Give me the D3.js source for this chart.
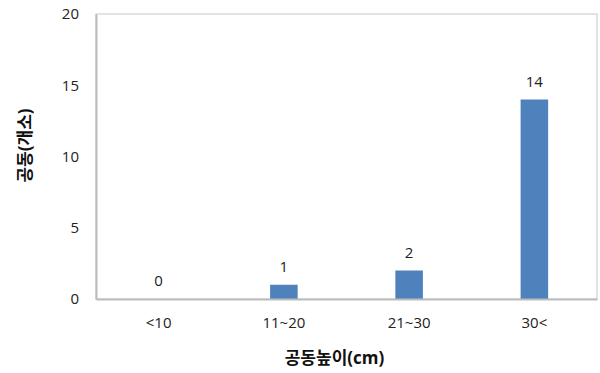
<!DOCTYPE html>
<html>
<head>
<meta charset="utf-8">
<script src="https://cdn.jsdelivr.net/npm/d3@7"></script>
<style>
  html, body { margin: 0; padding: 0; background: #fff; }
  svg { display: block; font-family: "Open Sans", "Noto Sans CJK KR", sans-serif; }
</style>
</head>
<body>
<svg id="chart" width="600" height="373"></svg>
<script>
// Cavity counts by cavity height class
const categories = ["<10", "11~20", "21~30", "30<"];
const counts = [0, 1, 2, 14];
const yTicks = [0, 5, 10, 15, 20];
const xTitle = "공동높이(cm)";
const yTitle = "공동(개소)";

const svg = d3.select("#chart");
const margin = { left: 96, right: 3, top: 14, bottom: 74 };
const W = 600, H = 373;
const innerW = W - margin.left - margin.right;
const innerH = H - margin.top - margin.bottom;

const g = svg.append("g").attr("transform", `translate(${margin.left},${margin.top})`);

const x = d3.scaleBand().domain(categories).range([0, innerW]).paddingInner(0.78).paddingOuter(0.39);
const y = d3.scaleLinear().domain([0, 20]).range([innerH, 0]);

// plot area frame
g.append("rect")
  .attr("x", 0).attr("y", 0)
  .attr("width", innerW).attr("height", innerH)
  .attr("fill", "none").attr("stroke", "#c8c8c8").attr("stroke-width", 1);

// bars
g.selectAll("rect.bar").data(categories).enter().append("rect")
  .attr("class", "bar")
  .attr("x", d => x(d))
  .attr("width", x.bandwidth())
  .attr("y", (d, i) => y(counts[i]))
  .attr("height", (d, i) => innerH - y(counts[i]))
  .attr("fill", "#4f81bd");

// value labels
g.selectAll("text.val").data(categories).enter().append("text")
  .attr("class", "val")
  .attr("x", d => x(d) + x.bandwidth() / 2)
  .attr("y", (d, i) => y(counts[i]) - 13)
  .attr("text-anchor", "middle")
  .attr("font-size", 15)
  .attr("fill", "#222")
  .text((d, i) => counts[i]);

// axes
const yAxis = g.append("g").call(d3.axisLeft(y).tickValues(yTicks).tickSize(0).tickPadding(17));
const xAxis = g.append("g").attr("transform", `translate(0,${innerH})`)
  .call(d3.axisBottom(x).tickSize(0).tickPadding(18));
[yAxis, xAxis].forEach(a => {
  a.select(".domain").attr("stroke", "#bcbcbc").attr("stroke-width", 2);
  a.selectAll("text").attr("font-size", 15).attr("fill", "#222")
    .attr("font-family", "\"Open Sans\", \"Noto Sans CJK KR\", sans-serif");
});

// axis titles
svg.append("text")
  .attr("x", margin.left + innerW / 2 - 12)
  .attr("y", 364)
  .attr("text-anchor", "middle")
  .attr("font-size", 17).attr("font-weight", "bold").attr("fill", "#111")
  .text(xTitle);

svg.append("text")
  .attr("transform", `translate(31,${margin.top + innerH / 2 - 11}) rotate(-90)`)
  .attr("text-anchor", "middle")
  .attr("font-size", 17).attr("font-weight", "bold").attr("fill", "#111")
  .text(yTitle);
</script>
</body>
</html>
